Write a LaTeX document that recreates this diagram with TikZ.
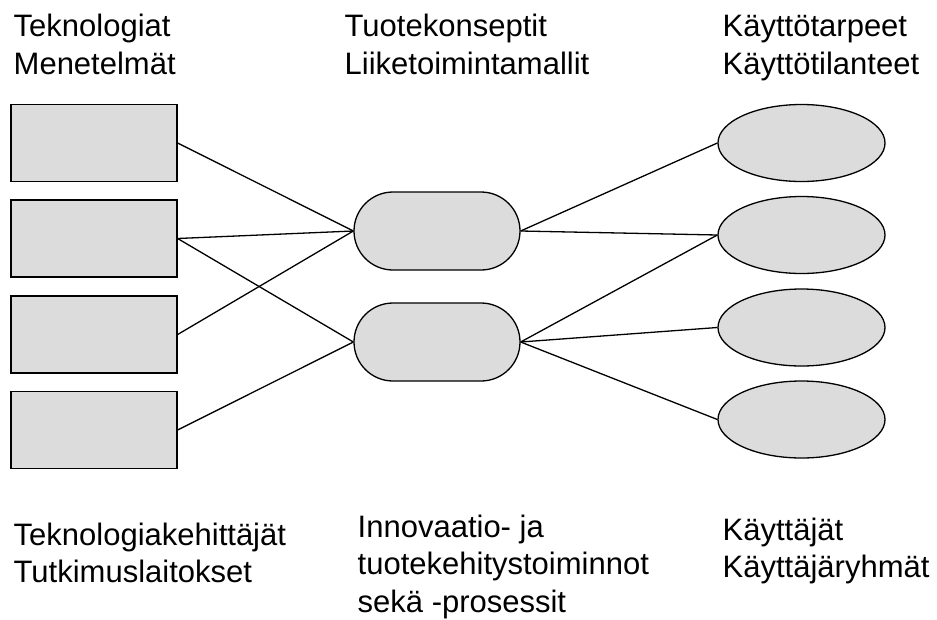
\documentclass[tikz,border=0pt]{standalone}
\usepackage{fontspec}
\setmainfont{Liberation Sans}
\usetikzlibrary{shapes.geometric,shapes.misc}
\definecolor{boxgray}{HTML}{DCDCDC}
\begin{document}
\begin{tikzpicture}[x=1pt,y=-1pt,
  box/.style={draw=black, fill=boxgray, line width=1.3pt, rectangle, minimum width=166pt, minimum height=77pt, inner sep=0pt},
  pill/.style={draw=black, fill=boxgray, line width=1.3pt, rounded rectangle, minimum width=166pt, minimum height=78pt, inner sep=0pt},
  oval/.style={draw=black, fill=boxgray, line width=1.3pt, ellipse, minimum width=167pt, minimum height=77pt, inner sep=0pt},
  link/.style={line width=1.3pt},
  lbl/.style={anchor=base west, inner sep=0pt, align=left, font=\fontsize{31}{37.5}\selectfont},
  toplbl/.style={lbl, font=\fontsize{31}{38}\selectfont}]
\useasboundingbox (0,0) rectangle (937,619);

% left boxes
\node[box] (r1) at (94,143) {};
\node[box] (r2) at (94,238.5) {};
\node[box] (r3) at (94,334.5) {};
\node[box] (r4) at (94,430) {};

% middle pills
\node[pill] (p1) at (437,231) {};
\node[pill] (p2) at (437,342) {};

% right ellipses
\node[oval] (e1) at (801.5,143) {};
\node[oval] (e2) at (801.5,235) {};
\node[oval] (e3) at (801.5,327.5) {};
\node[oval] (e4) at (801.5,419.5) {};

% connectors
\draw[link] (r1.east) -- (p1.west);
\draw[link] (r2.east) -- (p1.west);
\draw[link] (r2.east) -- (p2.west);
\draw[link] (r3.east) -- (p1.west);
\draw[link] (r4.east) -- (p2.west);
\draw[link] (p1.east) -- (e1.west);
\draw[link] (p1.east) -- (e2.west);
\draw[link] (p2.east) -- (e2.west);
\draw[link] (p2.east) -- (e3.west);
\draw[link] (p2.east) -- (e4.west);

% labels (anchor = baseline of the last line)
\node[toplbl] (t1) at (13.5,74) {Teknologiat\\Menetelmät};
\node[toplbl] (t2) at (344.5,74) {Tuotekonseptit\\Liiketoimintamallit};
\node[toplbl] (t3) at (722.5,74) {Käyttötarpeet\\Käyttötilanteet};
\node[lbl] (b1) at (13.5,582.5) {Teknologiakehittäjät\\Tutkimuslaitokset};
\node[lbl] (b2) at (357.5,612) {Innovaatio- ja\\tuotekehitystoiminnot\\sekä -prosessit};
\node[lbl] (b3) at (722.5,577.5) {Käyttäjät\\Käyttäjäryhmät};
\end{tikzpicture}
\end{document}
